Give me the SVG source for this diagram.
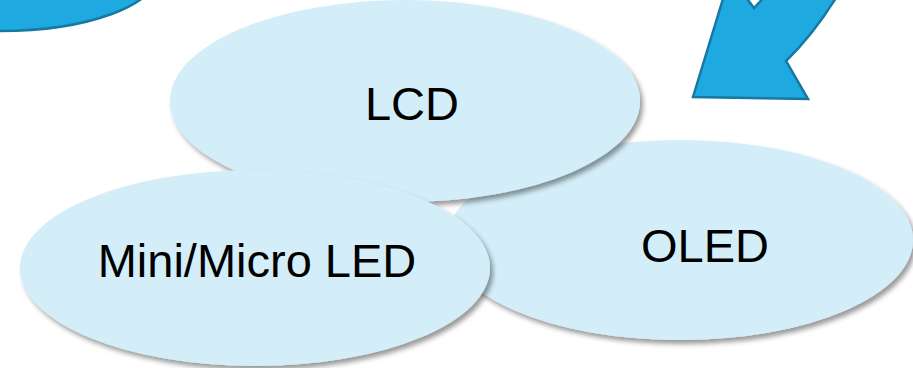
<svg xmlns="http://www.w3.org/2000/svg" width="913" height="368" viewBox="0 0 913 368">
  <defs>
    <filter id="sh" x="-10%" y="-10%" width="125%" height="130%">
      <feDropShadow dx="3" dy="4" stdDeviation="2.5" flood-color="#000" flood-opacity="0.4"/>
    </filter>
  </defs>
  <style>
    .blue { fill: #1FA9E1; stroke: #1679A1; stroke-width: 2.5; stroke-linejoin: miter; }
    .bub { fill: #D3EEF9; filter: url(#sh); }
    .lbl { font-family: "Liberation Sans", Arial, sans-serif; font-size: 47px; fill: #000; text-anchor: middle; }
  </style>
  <rect width="913" height="368" fill="#FFFFFF"/>
  <g id="topleft-shape">
    <ellipse class="blue" cx="0" cy="-27" rx="158" ry="58"/>
  </g>
  <g id="arrow">
    <path class="blue" d="M693,97 L730,-24 L748,0 L754,8 L799,-40 L856,-40 L842,-12 Q816,32 786,61 L808,99 Z"/>
  </g>
  <g id="oled">
    <ellipse class="bub" cx="680" cy="240" rx="233" ry="100"/>
    <text class="lbl" x="705" y="262">OLED</text>
  </g>
  <g id="lcd">
    <ellipse class="bub" cx="405" cy="101" rx="235" ry="101"/>
    <text class="lbl" x="412" y="120">LCD</text>
  </g>
  <g id="mini-micro-led">
    <ellipse class="bub" cx="255" cy="268" rx="235" ry="98"/>
    <text class="lbl" x="257" y="277">Mini/Micro LED</text>
  </g>
  <g id="connectors"></g>
</svg>
